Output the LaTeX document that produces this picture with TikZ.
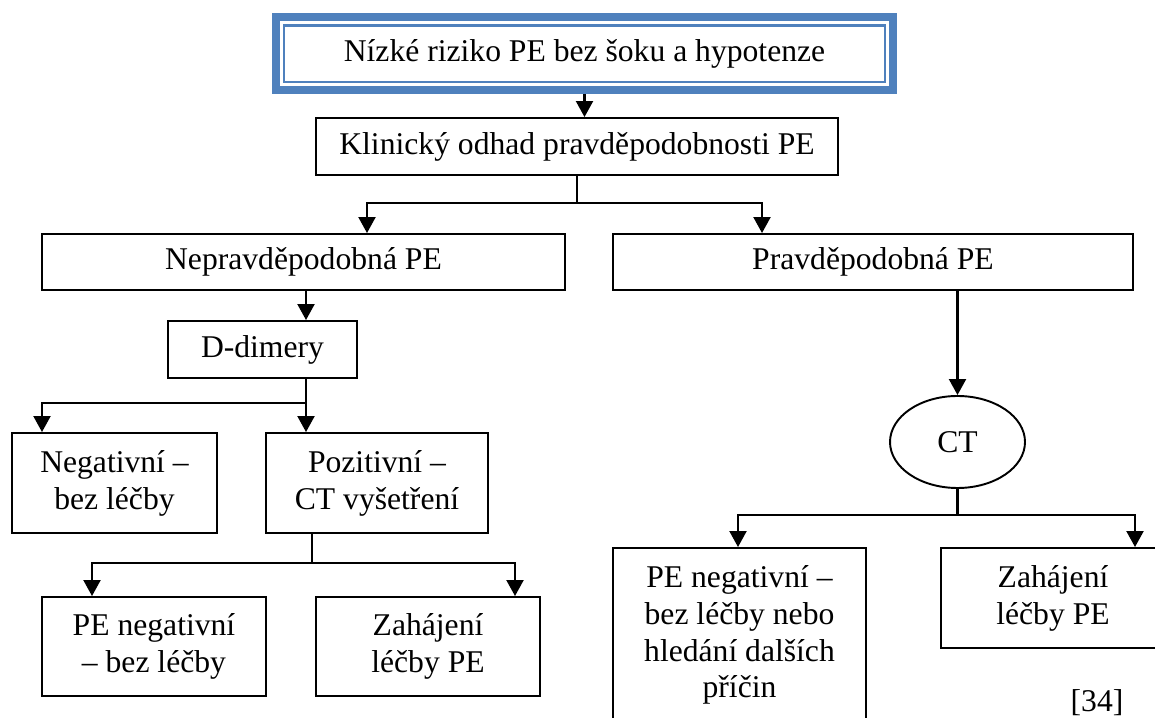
\documentclass[tikz,border=0pt]{standalone}
\usepackage{fontspec}
\setmainfont{Liberation Serif}
\usepackage{xcolor}
\usepackage{tikz}
\usetikzlibrary{arrows.meta,shapes.geometric}
\definecolor{wordblue}{HTML}{4F81BD}

\begin{document}
\begin{tikzpicture}[%
% common options for boxes:
box/.style = {draw, line width=1.1pt, align=center, inner sep=0,
            font=\fontsize{18}{21}\selectfont},
% common options for the blue title box:
titlebox/.style = {draw=wordblue, line width=0.16cm, align=center, inner sep=0,
            font=\fontsize{18}{21}\selectfont,
            path picture={\draw[wordblue, line width=1.3pt]
              ([shift={(0.16,-0.16)}]path picture bounding box.north west) rectangle
              ([shift={(-0.16,0.16)}]path picture bounding box.south east);}},
% common options for the connectors:
link/.style = {line width=1.2pt},
arr/.style = {line width=1.2pt, -{Triangle[length=0.32cm,width=0.34cm]}}]
\useasboundingbox (0,0) rectangle (23.1,-14.36);
\node[titlebox,minimum width=12.34cm,minimum height=1.45cm] (top) at (11.69,-1.075) {N\'{\i}zk\'e riziko PE bez \v{s}oku a hypotenze};
\node[box,minimum width=10.44cm,minimum height=1.14cm] (klin) at (11.54,-2.93) {Klinick\'y odhad pravd\v{e}podobnosti PE};
\node[box,minimum width=10.46cm,minimum height=1.12cm] (neprav) at (6.07,-5.24) {Nepravd\v{e}podobn\'a PE};
\node[box,minimum width=10.40cm,minimum height=1.12cm] (prav) at (17.46,-5.24) {Pravd\v{e}podobn\'a PE};
\node[box,minimum width=3.78cm,minimum height=1.14cm] (ddim) at (5.25,-6.99) {D-dimery};
\node[box,minimum width=4.10cm,minimum height=2.00cm] (neg) at (2.29,-9.66) {Negativn\'{\i} --\\bez l\'e\v{c}by};
\node[box,minimum width=4.44cm,minimum height=2.00cm] (poz) at (7.54,-9.66) {Pozitivn\'{\i} --\\CT vy\v{s}et\v{r}en\'{\i}};
\node[box,minimum width=4.48cm,minimum height=1.98cm] (peneg) at (3.08,-12.93) {PE negativn\'{\i}\\-- bez l\'e\v{c}by};
\node[box,minimum width=4.48cm,minimum height=1.98cm] (zah) at (8.56,-12.93) {Zah\'ajen\'{\i}\\l\'e\v{c}by PE};
\node[box,ellipse,minimum width=2.70cm,minimum height=1.84cm] (ct) at (19.15,-8.84) {CT};
\node[box,minimum width=5.06cm,minimum height=3.48cm] (penegb) at (14.79,-12.70) {PE negativn\'{\i} --\\bez l\'e\v{c}by nebo\\hled\'an\'{\i} dal\v{s}\'{\i}ch\\p\v{r}\'{\i}\v{c}in};
\node[box,minimum width=4.48cm,minimum height=2.00cm] (zahb) at (21.06,-11.96) {Zah\'ajen\'{\i}\\l\'e\v{c}by PE};
\node[font=\fontsize{18}{21}\selectfont] (ref) at (21.94,-14.06) {[34]};
% branch points
\coordinate (k0) at (7.34,-4.06);
\coordinate (k1) at (15.24,-4.06);
\coordinate (d0) at (0.84,-8.06);
\coordinate (d1) at (6.12,-8.06);
\coordinate (p0) at (1.84,-11.26);
\coordinate (pm) at (6.24,-11.26);
\coordinate (p1) at (10.30,-11.26);
\coordinate (c0) at (14.76,-10.30);
\coordinate (c1) at (22.70,-10.30);
\draw[arr] (top.south) -- (top.south |- klin.north);
\draw[arr] (klin.south) |- (k0) -- (k0 |- neprav.north);
\draw[arr] (klin.south) |- (k1) -- (k1 |- prav.north);
\draw[arr] (d1 |- neprav.south) -- (d1 |- ddim.north);
\draw[arr] (d1 |- ddim.south) -- (d1) -- (d1 |- poz.north);
\draw[arr] (d1) -- (d0) -- (d0 |- neg.north);
\draw[link] (pm |- poz.south) -- (pm);
\draw[arr] (pm) -- (p0) -- (p0 |- peneg.north);
\draw[arr] (pm) -- (p1) -- (p1 |- zah.north);
\draw[arr] (ct.north |- prav.south) -- (ct.north);
\draw[arr] (ct.south) |- (c0) -- (c0 |- penegb.north);
\draw[arr] (ct.south) |- (c1) -- (c1 |- zahb.north);
\end{tikzpicture}
\end{document}
